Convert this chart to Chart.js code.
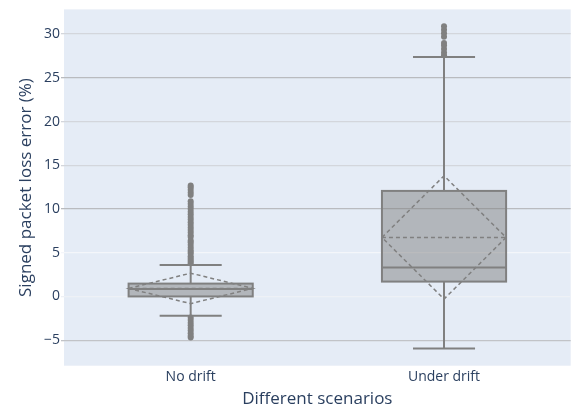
<!DOCTYPE html>
<html>
<head>
<meta charset="utf-8">
<script src="https://cdn.jsdelivr.net/npm/chart.js@4.4.1/dist/chart.umd.min.js"></script>
<style>
  html, body { margin: 0; padding: 0; background: #fff; }
  #wrap { width: 574px; height: 408px; position: relative; }
</style>
</head>
<body>
<div id="wrap"><canvas id="boxChart"></canvas></div>
<script>
/* Box plot (mean + sd diamond) of signed packet loss error per scenario */
const categories = ['No drift', 'Under drift'];

// box statistics, one entry per category
const lowerFence = [-2.2, -5.95];
const q1Values   = [0.0, 1.7];
const medians    = [0.85, 3.3];
const q3Values   = [1.47, 12.07];
const upperFence = [3.6, 27.4];
const means      = [0.92, 6.75];
const stdDevs    = [1.74, 7.05];

// outliers beyond the whiskers
const outliersNoDrift = [3.8, 4.0, 4.2, 4.4, 4.6, 4.9, 5.1, 5.3, 5.6, 5.9, 6.2, 6.4,
    6.8, 7.0, 7.3, 7.6, 7.9, 8.2, 8.5, 8.8, 9.1, 9.4, 9.7, 10.0, 10.3, 10.6, 10.9,
    11.6, 11.9, 12.2, 12.5, 12.7,
    -2.4, -2.7, -3.0, -3.3, -3.6, -3.9, -4.2, -4.5, -4.7];
const outliersUnderDrift = [27.6, 27.9, 28.3, 28.7, 29.0, 29.7, 30.1, 30.5, 30.9];

const yTicks = [-5, 0, 5, 10, 15, 20, 25, 30];

const FONT = "'Open Sans', 'Noto Sans', sans-serif";
const TEXT = '#2a3f5f';
const GRAY = 'rgb(128,128,128)';
const BOX_W = 0.49;   // box width in category units
const CAP_W = 0.245;  // whisker cap width

// grid shading as it appears in the picture
const GRID_COLORS = { '-5': '#c1c3c7', '0': '#eef1f6', '5': '#f4f6fa', '10': '#b9bbbf',
    '15': '#d3d6dc', '20': '#d3d6dc', '25': '#b9bbbf', '30': '#d3d6dc' };

const boxPlugin = {
    id: 'boxes',
    beforeDatasetsDraw(chart) {
        const { ctx, chartArea, scales: { x, y } } = chart;
        ctx.save();
        ctx.beginPath();
        ctx.rect(chartArea.left, chartArea.top, chartArea.width, chartArea.height);
        ctx.clip();
        categories.forEach((c, i) => {
            const xl = x.getPixelForValue(i - BOX_W / 2);
            const xr = x.getPixelForValue(i + BOX_W / 2);
            const xc = x.getPixelForValue(i);
            const cl = x.getPixelForValue(i - CAP_W / 2);
            const cr = x.getPixelForValue(i + CAP_W / 2);
            const yq1 = y.getPixelForValue(q1Values[i]);
            const yq3 = y.getPixelForValue(q3Values[i]);
            const yHi = y.getPixelForValue(upperFence[i]);
            const yLo = y.getPixelForValue(lowerFence[i]);

            ctx.strokeStyle = GRAY;
            ctx.lineWidth = 2;
            ctx.setLineDash([]);

            // whiskers
            ctx.beginPath();
            ctx.moveTo(xc, yq3); ctx.lineTo(xc, yHi);
            ctx.moveTo(xc, yq1); ctx.lineTo(xc, yLo);
            ctx.moveTo(cl, yHi); ctx.lineTo(cr, yHi);
            ctx.moveTo(cl, yLo); ctx.lineTo(cr, yLo);
            ctx.stroke();

            // box
            ctx.fillStyle = 'rgba(128,128,128,0.5)';
            ctx.fillRect(xl, yq3, xr - xl, yq1 - yq3);
            ctx.strokeRect(xl, yq3, xr - xl, yq1 - yq3);

            // median
            const ym = y.getPixelForValue(medians[i]);
            ctx.beginPath();
            ctx.moveTo(xl, ym); ctx.lineTo(xr, ym);
            ctx.stroke();

            // mean line and sd diamond
            const yMean = y.getPixelForValue(means[i]);
            ctx.lineWidth = 1.5;
            ctx.setLineDash([4, 3]);
            ctx.beginPath();
            ctx.moveTo(xl, yMean); ctx.lineTo(xr, yMean);
            ctx.stroke();
            ctx.beginPath();
            ctx.moveTo(xl, yMean);
            ctx.lineTo(xc, y.getPixelForValue(means[i] + stdDevs[i]));
            ctx.lineTo(xr, yMean);
            ctx.lineTo(xc, y.getPixelForValue(means[i] - stdDevs[i]));
            ctx.closePath();
            ctx.stroke();
        });
        ctx.restore();
    }
};

const bgPlugin = {
    id: 'plotBg',
    beforeDraw(chart) {
        const { ctx, chartArea: a } = chart;
        ctx.save();
        ctx.fillStyle = '#e5ecf6';
        ctx.fillRect(a.left, a.top, a.width, a.height);
        ctx.restore();
    }
};

new Chart(document.getElementById('boxChart'), {
    type: 'scatter',
    data: {
        datasets: [
            { data: outliersNoDrift.map(v => ({ x: 0, y: v })) },
            { data: outliersUnderDrift.map(v => ({ x: 1, y: v })) }
        ]
    },
    options: {
        responsive: true,
        maintainAspectRatio: false,
        animation: false,
        layout: { padding: { top: 9, right: 3.3, left: 0, bottom: 0 } },
        elements: { point: { radius: 3, backgroundColor: GRAY, borderWidth: 0, hoverRadius: 3 } },
        plugins: { legend: { display: false }, tooltip: { enabled: false } },
        scales: {
            x: {
                type: 'linear', min: -0.5, max: 1.5,
                afterBuildTicks: ax => { ax.ticks = categories.map((c, i) => ({ value: i })); },
                afterFit: ax => { ax.height = 42.3; },
                grid: { display: false, drawTicks: false },
                border: { display: false },
                ticks: {
                    callback: v => categories[v],
                    color: TEXT, font: { family: FONT, size: 14 }, padding: 2.6, maxRotation: 0
                },
                title: {
                    display: true, text: 'Different scenarios', color: TEXT,
                    font: { family: FONT, size: 17 }, padding: { top: 0, bottom: -1 }
                }
            },
            y: {
                min: -7.92, max: 32.83,
                afterBuildTicks: ax => { ax.ticks = yTicks.map(v => ({ value: v })); },
                afterFit: ax => { ax.width = 64; },
                grid: {
                    color: c => GRID_COLORS[String(c.tick && c.tick.value)] || '#d3d6dc',
                    lineWidth: 1.3, tickLength: 3
                },
                border: { display: false },
                ticks: {
                    callback: v => (v < 0 ? '\u2212' + Math.abs(v) : String(v)),
                    color: TEXT, font: { family: FONT, size: 14 }, padding: 1
                },
                title: {
                    display: true, text: 'Signed packet loss error (%)', color: TEXT,
                    font: { family: FONT, size: 17 }, padding: { top: 15.8, bottom: 0 }
                }
            }
        }
    },
    plugins: [bgPlugin, boxPlugin]
});
</script>
</body>
</html>
